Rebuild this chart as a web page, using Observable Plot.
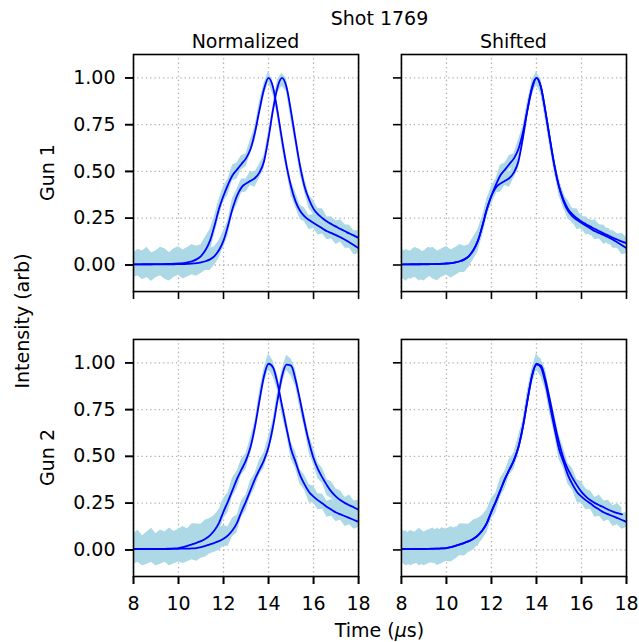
<!DOCTYPE html>
<html><head><meta charset="utf-8">
<script src="https://cdn.jsdelivr.net/npm/d3@7"></script>
<script src="https://cdn.jsdelivr.net/npm/@observablehq/plot@0.6"></script>
<style>
body{margin:0;background:#fff;font-family:"DejaVu Sans",sans-serif;}
#title{width:639px;height:30px;line-height:36px;box-sizing:border-box;padding-left:120px;text-align:center;font-size:19px;color:#000;white-space:nowrap;overflow:visible}
</style></head><body>
<div id="title">Shot 1769</div>
<div id="chart"></div>
<script>
// time grid (µs)
const t = [8,8.2,8.4,8.6,8.8,9,9.2,9.4,9.6,9.8,10,10.2,10.4,10.6,10.8,11,11.2,11.4,11.6,11.8,12,12.2,12.4,12.6,12.8,13,13.2,13.4,13.6,13.8,14,14.2,14.4,14.6,14.8,15,15.2,15.4,15.6,15.8,16,16.2,16.4,16.6,16.8,17,17.2,17.4,17.6,17.8,18,18.2,18.4,18.6];

// Gun 1 smoothed intensities (two shots)
const g1A = [0.003,0.003,0.004,0.004,0.004,0.005,0.005,0.005,0.006,0.007,
 0.008,0.010,0.014,0.020,0.030,0.048,0.080,0.130,0.210,0.300,
 0.370,0.430,0.480,0.510,0.540,0.570,0.620,0.710,0.830,0.940,
 1.000,0.950,0.820,0.670,0.530,0.420,0.340,0.290,0.260,0.240,
 0.225,0.210,0.195,0.180,0.170,0.160,0.148,0.135,0.120,0.105,
 0.090,0.082,0.075,0.070];
const g1B = [0.003,0.003,0.003,0.003,0.003,0.003,0.003,0.004,0.004,0.004,
 0.005,0.005,0.006,0.008,0.010,0.014,0.020,0.030,0.048,0.080,
 0.130,0.210,0.300,0.370,0.415,0.435,0.450,0.465,0.495,0.555,
 0.680,0.830,0.950,1.000,0.950,0.820,0.670,0.530,0.420,0.350,
 0.300,0.270,0.250,0.232,0.218,0.205,0.192,0.180,0.168,0.157,
 0.145,0.135,0.125,0.117];
// Gun 1 raw-noise envelope (above / below the smoothed line)
const g1Hi = [0.06,0.08,0.07,0.09,0.06,0.07,0.09,0.08,0.06,0.08,
 0.09,0.07,0.08,0.09,0.07,0.06,0.07,0.06,0.05,0.05,
 0.05,0.03,0.055,0.035,0.045,0.025,0.05,0.03,0.045,0.03,
 0.035,0.02,0.04,0.025,0.045,0.03,0.05,0.03,0.045,0.025,
 0.045,0.03,0.05,0.025,0.04,0.03,0.05,0.035,0.045,0.025,
 0.04,0.03,0.045,0.03];
const g1Lo = [0.07,0.06,0.08,0.07,0.09,0.07,0.06,0.08,0.09,0.07,
 0.06,0.08,0.07,0.06,0.07,0.06,0.05,0.06,0.05,0.045,
 0.035,0.055,0.03,0.05,0.03,0.045,0.025,0.05,0.03,0.04,
 0.025,0.04,0.03,0.045,0.025,0.05,0.03,0.045,0.03,0.05,
 0.03,0.05,0.03,0.045,0.03,0.05,0.025,0.045,0.03,0.05,
 0.03,0.045,0.03,0.04];

// Gun 2 smoothed intensities
const g2A = [0.005,0.004,0.005,0.005,0.004,0.005,0.006,0.006,0.007,0.008,
 0.010,0.015,0.022,0.030,0.038,0.047,0.060,0.078,0.105,0.145,
 0.205,0.260,0.320,0.380,0.430,0.480,0.550,0.660,0.800,0.930,
 0.995,0.975,0.890,0.770,0.650,0.540,0.470,0.400,0.350,0.310,
 0.285,0.265,0.248,0.230,0.215,0.200,0.190,0.180,0.170,0.160,
 0.150,0.143,0.137,0.130];
const g2B = [0.005,0.005,0.005,0.004,0.005,0.005,0.004,0.005,0.005,0.006,
 0.006,0.007,0.007,0.008,0.010,0.015,0.022,0.030,0.038,0.047,
 0.060,0.078,0.105,0.145,0.205,0.260,0.320,0.380,0.430,0.480,
 0.550,0.660,0.800,0.930,0.990,0.985,0.910,0.800,0.680,0.575,
 0.490,0.430,0.385,0.345,0.310,0.285,0.265,0.250,0.238,0.227,
 0.215,0.205,0.197,0.190];
const g2Hi = [0.08,0.10,0.07,0.09,0.11,0.08,0.10,0.09,0.11,0.09,
 0.10,0.11,0.09,0.11,0.10,0.09,0.10,0.09,0.08,0.07,
 0.07,0.045,0.065,0.04,0.055,0.035,0.05,0.03,0.05,0.04,
 0.055,0.035,0.045,0.03,0.05,0.035,0.055,0.03,0.05,0.04,
 0.055,0.035,0.05,0.03,0.055,0.04,0.05,0.03,0.055,0.035,
 0.05,0.03,0.05,0.035];
const g2Lo = [0.08,0.07,0.09,0.08,0.07,0.09,0.08,0.07,0.09,0.08,
 0.07,0.08,0.07,0.06,0.07,0.06,0.06,0.05,0.05,0.05,
 0.04,0.06,0.035,0.055,0.03,0.05,0.035,0.05,0.03,0.045,
 0.03,0.05,0.035,0.05,0.03,0.055,0.035,0.05,0.03,0.055,
 0.035,0.05,0.03,0.055,0.035,0.05,0.03,0.055,0.035,0.05,
 0.03,0.05,0.035,0.05];

// time shifts applied in the "Shifted" column (µs)
const shiftA = [0, 0];
const shiftB = [0.6, 0.8];

const cols = ["Normalized", "Shifted"];
const guns = ["Gun 1", "Gun 2"];
const xTicks = [8, 10, 12, 14, 16, 18];
const yTicks = [0, 0.25, 0.5, 0.75, 1];

const series = [
  {gun: "Gun 1", name: "A", y: g1A, hi: g1Hi, lo: g1Lo, shift: shiftA[0]},
  {gun: "Gun 1", name: "B", y: g1B, hi: g1Hi, lo: g1Lo, shift: shiftB[0]},
  {gun: "Gun 2", name: "A", y: g2A, hi: g2Hi, lo: g2Lo, shift: shiftA[1]},
  {gun: "Gun 2", name: "B", y: g2B, hi: g2Hi, lo: g2Lo, shift: shiftB[1]}
];
const rows = [];
for (const s of series) for (const col of cols) t.forEach((ti, i) => rows.push({
  col, gun: s.gun, key: s.gun + s.name + col,
  t: col === "Shifted" ? ti - s.shift : ti,
  y: s.y[i], y1: s.y[i] - s.lo[i], y2: s.y[i] + s.hi[i]
}));

const gridStyle = {stroke: "#b0b0b0", strokeOpacity: 1, strokeWidth: 1.3, strokeDasharray: "1.3,3"};
const plot = Plot.plot({
  width: 639, height: 612,
  marginLeft: 133, marginRight: 13, marginTop: 24, marginBottom: 66,
  style: {fontFamily: "DejaVu Sans", fontSize: "19px", color: "black", background: "white"},
  x: {domain: [8, 18], label: null},
  y: {domain: [-0.142, 1.125], label: null},
  fx: {domain: cols, paddingInner: 0.16, paddingOuter: 0, round: false, axis: null, label: null},
  fy: {domain: guns, paddingInner: 0.168, paddingOuter: 0, round: false, axis: null, label: null},
  marks: [
    Plot.gridX(xTicks, gridStyle),
    Plot.gridY(yTicks, gridStyle),
    Plot.areaY(rows, {x: "t", y1: "y1", y2: "y2", z: "key", fx: "col", fy: "gun", fill: "#add8e6", curve: "linear", clip: true}),
    Plot.line(rows, {x: "t", y: "y", z: "key", fx: "col", fy: "gun", stroke: "#0000ff", strokeWidth: 1.8, curve: "monotone-x", clip: true}),
    Plot.frame({stroke: "black", strokeWidth: 1.6}),
    Plot.axisX(xTicks, {facetAnchor: null, tickSize: 8, strokeWidth: 1.6, tickFormat: () => "", label: null}),
    Plot.axisX(xTicks, {tickSize: 8, tickPadding: 12, strokeWidth: 1.6, tickFormat: d => String(d), label: null}),
    Plot.axisY(yTicks, {facetAnchor: null, tickSize: 8, strokeWidth: 1.6, tickFormat: () => "", label: null}),
    Plot.axisY(yTicks, {tickSize: 8, tickPadding: 10, strokeWidth: 1.6, tickFormat: d3.format(".2f"), label: null})
  ]
});
document.getElementById("chart").appendChild(plot);

// annotations positioned from the facet scales
const fxS = plot.scale("fx"), fyS = plot.scale("fy");
const svg = d3.select(plot);
const g = svg.append("g").attr("font-family", "DejaVu Sans").attr("font-size", 19).attr("fill", "black");
const top0 = Math.min(...fyS.range);
const bot0 = Math.max(...fyS.range);
cols.forEach(c => g.append("text")
  .attr("x", fxS.apply(c) + fxS.bandwidth / 2).attr("y", top0 - 6)
  .attr("text-anchor", "middle").text(c));
guns.forEach(gn => g.append("text")
  .attr("transform", `translate(47,${fyS.apply(gn) + fyS.bandwidth / 2}) rotate(-90)`)
  .attr("dy", "0.35em").attr("text-anchor", "middle").text(gn));
g.append("text").attr("transform", `translate(22,${(top0 + bot0) / 2 + 6}) rotate(-90)`)
  .attr("dy", "0.35em").attr("text-anchor", "middle").text("Intensity (arb)");
const xr = fxS.range;
const tl = g.append("text").attr("x", (Math.min(...xr) + Math.max(...xr)) / 2).attr("y", bot0 + 61).attr("text-anchor", "middle");
tl.append("tspan").text("Time (");
tl.append("tspan").attr("font-style", "italic").text("μ");
tl.append("tspan").text("s)");
</script></body></html>
